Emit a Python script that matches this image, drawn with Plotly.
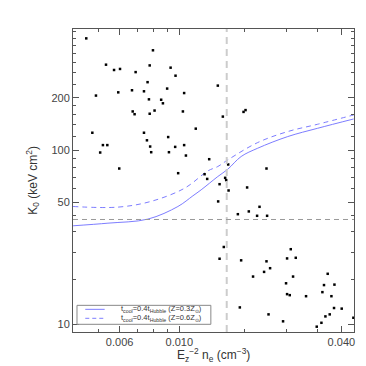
import plotly.graph_objects as go
import math

# ---- data ----
cluster_x = [0.00451, 0.00798, 0.00534, 0.00776, 0.00572, 0.00602, 0.00928, 0.00688, 0.00762, 0.00901,
             0.00667, 0.00739, 0.00593, 0.00490, 0.00771, 0.00856, 0.00869, 0.00809, 0.00671, 0.00682,
             0.00776, 0.00475, 0.00739, 0.00909, 0.00758, 0.00520, 0.00540, 0.00779, 0.00508, 0.00786,
             0.00915, 0.00598,
             0.00968, 0.01390, 0.01042, 0.01031, 0.01451, 0.01732, 0.01762, 0.01151, 0.01042, 0.00965,
             0.01058, 0.01291, 0.01519, 0.02108, 0.00990, 0.01241,
             0.01269, 0.01480, 0.01493, 0.01411, 0.01524, 0.01786, 0.01394, 0.01650, 0.01812, 0.01986,
             0.01945, 0.02119, 0.01463, 0.01411, 0.01697, 0.02108, 0.02065, 0.01879, 0.01678,
             0.02595, 0.02514, 0.02708, 0.02174, 0.02646, 0.02492, 0.03559, 0.03448, 0.03770, 0.02514,
             0.02572, 0.02957, 0.03401, 0.03674, 0.03757, 0.04012, 0.02145, 0.02429, 0.03490, 0.03621,
             0.04434, 0.03373, 0.03240]
cluster_k0 = [439, 375, 310, 307, 289, 293, 298, 281, 246, 226,
              221, 218, 215, 206, 196, 195, 186, 169, 167, 161,
              162, 126, 126, 119, 114, 107, 107, 105, 97.0, 97.4,
              97.4, 78.5,
              268, 235, 213, 167, 156, 166, 170, 133, 107, 104.5,
              93.2, 88.8, 82.8, 78.5, 73.8, 72.8,
              68.4, 69.4, 67.3, 63.8, 58.7, 61.1, 50.8, 42.9, 44.5, 47.3,
              42.0, 42.0, 27.8, 23.8, 23.3, 23.0, 20.0, 18.8, 12.5,
              27.0, 23.9, 24.1, 21.0, 18.8, 17.2, 19.5, 16.8, 16.9, 14.9,
              14.7, 14.5, 15.3, 14.5, 12.4, 12.3, 11.4, 10.4, 11.1, 11.4,
              10.9, 10.2, 9.69]

solid_x = [0.00403, 0.00543, 0.00764, 0.00988, 0.01123, 0.01205, 0.0139, 0.01514, 0.01697,
           0.01956, 0.02529, 0.03267, 0.04444]
solid_k0 = [36.8, 38.1, 40.2, 47.5, 54.7, 59.2, 70.6, 77.8, 92.0, 102.7, 119.8, 133.7, 151.2]

dashed_x = [0.00403, 0.00591, 0.00784, 0.01046, 0.01277, 0.0139, 0.01514, 0.01956, 0.02529,
            0.03267, 0.04444]
dashed_k0 = [47.5, 47.1, 50.8, 60.5, 76.1, 80.6, 88.0, 110.7, 128.0, 141.0, 159.4]

density_threshold = 0.015
k0_threshold = 40

x_major = [0.006, 0.010, 0.040]
x_major_text = ["0.006", "0.010", "0.040"]
x_minor = [0.005, 0.007, 0.008, 0.009, 0.0175, 0.025, 0.0325]
y_major = [10, 50, 100, 200]
y_major_text = ["10", "50", "100", "200"]
y_minor = [18, 26, 34, 42, 60, 70, 80, 90, 120, 140, 160, 180, 240, 280, 320, 360, 400, 440, 480]

x_title = "E<sub>z</sub><sup>−2</sup> n<sub>e</sub> (cm<sup>−3</sup>)"
y_title = "K<sub>0</sub> (keV cm<sup>2</sup>)"
legend_labels = ["t<sub>cool</sub>=0.4t<sub>Hubble</sub> (Z=0.3Z<sub>⊙</sub>)",
                 "t<sub>cool</sub>=0.4t<sub>Hubble</sub> (Z=0.6Z<sub>⊙</sub>)"]

# ---- figure ----
FONT = "Liberation Sans, Arial, sans-serif"
AXC = "#555555"
CURVE = "#7d7dff"

fig = go.Figure()
fig.add_trace(go.Scatter(x=solid_x, y=solid_k0, mode="lines", line=dict(color=CURVE, width=1, shape="spline"),
                         showlegend=False, hoverinfo="skip"))
fig.add_trace(go.Scatter(x=dashed_x, y=dashed_k0, mode="lines",
                         line=dict(color=CURVE, width=1, dash="5px,4px", shape="spline"),
                         showlegend=False, hoverinfo="skip"))
fig.add_trace(go.Scatter(x=cluster_x, y=cluster_k0, mode="markers",
                         marker=dict(color="black", size=2.5, symbol="square", line=dict(width=0)),
                         showlegend=False))

fig.add_vline(x=density_threshold, line=dict(color="#cccccc", width=2, dash="7px,5px"))
fig.add_hline(y=k0_threshold, line=dict(color="#999999", width=1, dash="5px,4px"))

# legend box drawn in paper coords
L = dict(x0=0.0142, x1=0.4906, y0=0.0254, y1=0.088)
fig.add_shape(type="rect", xref="paper", yref="paper", x0=L["x0"], x1=L["x1"], y0=L["y0"], y1=L["y1"],
              line=dict(color="#888888", width=1), fillcolor="white")
rows = [0.0748, 0.0452]
dashes = ["solid", "4px,3px"]
for ry, d, lab in zip(rows, dashes, legend_labels):
    fig.add_shape(type="line", xref="paper", yref="paper", x0=0.0437, x1=0.1127, y0=ry, y1=ry,
                  line=dict(color=CURVE, width=1, dash=d))
    fig.add_annotation(xref="paper", yref="paper", x=0.163, y=ry, text=lab, showarrow=False,
                       xanchor="left", yanchor="middle", font=dict(size=7.5, color="#333333", family=FONT))

# axis titles
fig.add_annotation(xref="paper", yref="paper", x=0.5, y=-0.076, text=x_title, showarrow=False,
                   xanchor="center", yanchor="middle", font=dict(size=12, color="#333333", family=FONT))
fig.add_annotation(xref="paper", yref="paper", x=-0.145, y=0.5, text=y_title, showarrow=False, textangle=-90,
                   xanchor="center", yanchor="middle", font=dict(size=12, color="#333333", family=FONT))

fig.update_xaxes(type="log", range=[math.log10(0.004026), math.log10(0.04457)],
                 tickmode="array", tickvals=x_major, ticktext=x_major_text,
                 ticks="inside", ticklen=6, tickwidth=1, tickcolor=AXC,
                 minor=dict(tickmode="array", tickvals=x_minor, ticks="inside", ticklen=3, tickcolor=AXC, showgrid=False),
                 showline=True, linecolor=AXC, linewidth=1, mirror="allticks", showgrid=False, zeroline=False,
                 tickfont=dict(size=11, color="#444444", family=FONT))
fig.update_yaxes(type="log", range=[math.log10(9.03), math.log10(497)],
                 tickmode="array", tickvals=y_major, ticktext=y_major_text,
                 ticks="inside", ticklen=6, tickwidth=1, tickcolor=AXC,
                 minor=dict(tickmode="array", tickvals=y_minor, ticks="inside", ticklen=3, tickcolor=AXC, showgrid=False),
                 showline=True, linecolor=AXC, linewidth=1, mirror="allticks", showgrid=False, zeroline=False,
                 tickfont=dict(size=11, color="#444444", family=FONT))

fig.update_layout(width=366, height=366, margin=dict(l=65, r=20, t=21, b=42, autoexpand=False),
                  paper_bgcolor="white", plot_bgcolor="white", font=dict(family=FONT))
fig.write_html("out.html")
